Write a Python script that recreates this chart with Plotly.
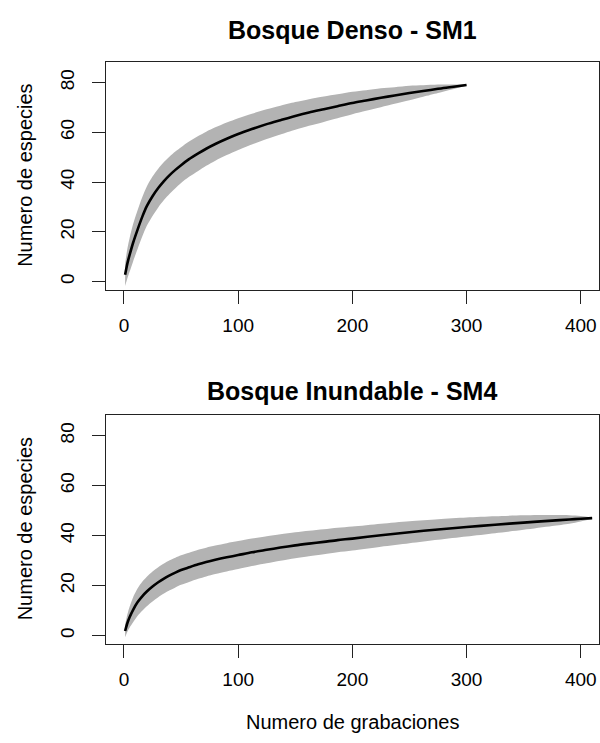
import plotly.graph_objects as go

# ---- data ----
x_denso = [1, 3, 5, 8, 12, 16, 20, 25, 30, 35, 40, 45, 50, 57, 65, 72, 80, 90, 100, 112,
           125, 137, 150, 162, 175, 187, 200, 212, 225, 237, 250, 262, 275, 287, 300]
mean_denso = [2.7, 7.3, 10.8, 15.6, 21.0, 26.0, 30.3, 34.3, 37.6, 40.4, 42.8, 44.9, 46.8, 49.2, 51.5, 53.4, 55.3, 57.4, 59.3, 61.3,
              63.3, 64.9, 66.6, 68.0, 69.3, 70.5, 71.8, 72.8, 73.9, 74.8, 75.8, 76.6, 77.5, 78.2, 79.0]
upper_denso = [7.2, 13.3, 17.6, 23.1, 28.8, 33.9, 38.2, 42.2, 45.4, 48.05, 50.3, 52.25, 54.0, 56.3, 58.5, 60.25, 62.0, 63.95, 65.7, 67.5,
               69.3, 70.7, 72.2, 73.35, 74.4, 75.3, 76.3, 76.95, 77.7, 78.15, 78.7, 78.9, 79.2, 79.2, 79.3]
lower_denso = [-1.8, 1.3, 4.0, 8.1, 13.2, 18.1, 22.4, 26.4, 29.8, 32.75, 35.3, 37.55, 39.6, 42.1, 44.5, 46.55, 48.6, 50.85, 52.9, 55.1,
               57.3, 59.1, 61.0, 62.65, 64.2, 65.7, 67.3, 68.65, 70.1, 71.45, 72.9, 74.3, 75.8, 77.2, 78.7]

x_inund = [1, 3, 5, 8, 12, 16, 20, 25, 30, 35, 40, 45, 50, 57, 65, 72, 80, 90, 100, 112,
           125, 137, 150, 162, 175, 187, 200, 225, 250, 275, 300, 325, 350, 375, 390, 400, 410]
mean_inund = [1.8, 5.0, 7.4, 10.3, 13.4, 15.7, 17.6, 19.6, 21.3, 22.8, 24.1, 25.2, 26.2, 27.3, 28.5, 29.4, 30.3, 31.3, 32.2, 33.3,
              34.3, 35.2, 36.1, 36.8, 37.5, 38.2, 38.8, 40.15, 41.35, 42.45, 43.45, 44.35, 45.2, 46.0, 46.45, 46.75, 47.0]
upper_inund = [4.3, 8.5, 11.6, 15.3, 18.9, 21.5, 23.5, 25.6, 27.3, 28.8, 30.1, 31.15, 32.1, 33.15, 34.3, 35.15, 36.0, 36.95, 37.8, 38.8,
               39.7, 40.5, 41.3, 41.9, 42.5, 43.1, 43.6, 44.75, 45.75, 46.55, 47.25, 47.75, 48.1, 48.2, 48.15, 47.85, 47.3]
lower_inund = [-0.7, 1.5, 3.2, 5.3, 7.9, 9.9, 11.7, 13.6, 15.3, 16.8, 18.1, 19.25, 20.3, 21.45, 22.7, 23.65, 24.6, 25.65, 26.6, 27.8,
               28.9, 29.9, 30.9, 31.7, 32.5, 33.3, 34.0, 35.55, 36.95, 38.35, 39.65, 40.95, 42.3, 43.8, 44.75, 45.65, 46.7]

titles = ["Bosque Denso - SM1", "Bosque Inundable - SM4"]
ylab = "Numero de especies"
xlab = "Numero de grabaciones"
x_ticks = [0, 100, 200, 300, 400]
y_ticks = [0, 20, 40, 60, 80]

# ---- layout geometry (pixels) ----
W, H = 600, 743
FONT = "Liberation Sans, Arial, sans-serif"
box_left, box_right = 105.7, 599.0
panels_px = [(61.7, 290.0), (414.7, 644.0)]  # (top, bottom)
title_y_px = [30, 391]

def py(p):
    return 1 - p / H

fig = go.Figure()
series = [(x_denso, mean_denso, upper_denso, lower_denso),
          (x_inund, mean_inund, upper_inund, lower_inund)]

for i, (xs, m, up, lo) in enumerate(series):
    xa = "x" if i == 0 else "x2"
    ya = "y" if i == 0 else "y2"
    fig.add_trace(go.Scatter(x=xs, y=lo, mode="lines",
                             line=dict(width=0, color="#B3B3B3", shape="spline", smoothing=0.8),
                             xaxis=xa, yaxis=ya, hoverinfo="skip", showlegend=False))
    fig.add_trace(go.Scatter(x=xs, y=up, mode="lines", fill="tonexty", fillcolor="#B3B3B3",
                             line=dict(width=0, color="#B3B3B3", shape="spline", smoothing=0.8),
                             xaxis=xa, yaxis=ya, hoverinfo="skip", showlegend=False))
    fig.add_trace(go.Scatter(x=xs, y=m, mode="lines",
                             line=dict(color="black", width=2.6, shape="spline", smoothing=0.8),
                             xaxis=xa, yaxis=ya, showlegend=False))

axis_common = dict(showgrid=False, zeroline=False, showline=True, mirror=True,
                   linecolor="#222222", linewidth=1.3, ticks="outside", ticklen=13,
                   tickwidth=1.3, tickcolor="#222222",
                   tickfont=dict(family=FONT, size=19, color="black"))

for i, (top, bot) in enumerate(panels_px):
    sfx = "" if i == 0 else "2"
    fig.layout["xaxis" + sfx] = dict(axis_common, domain=[box_left / W, box_right / W],
                                    range=[-16, 416], tickvals=x_ticks,
                                    anchor="y" + sfx, ticklabelstandoff=5)
    fig.layout["yaxis" + sfx] = dict(axis_common, domain=[py(bot), py(top)],
                                    range=[-3.4, 88.4], tickvals=y_ticks, tickangle=-90,
                                    anchor="x" + sfx, ticklabelstandoff=10)

annotations = []
for i, (top, bot) in enumerate(panels_px):
    annotations.append(dict(text="<b>" + titles[i] + "</b>", x=(box_left + box_right) / 2 / W,
                            y=py(title_y_px[i]), xref="paper", yref="paper", showarrow=False,
                            font=dict(family=FONT, size=25, color="black"),
                            xanchor="center", yanchor="middle"))
    annotations.append(dict(text=ylab, x=25 / W, y=py((top + bot) / 2), xref="paper", yref="paper",
                            showarrow=False, textangle=-90,
                            font=dict(family=FONT, size=20, color="black"),
                            xanchor="center", yanchor="middle"))
annotations.append(dict(text=xlab, x=(box_left + box_right) / 2 / W, y=py(722), xref="paper",
                        yref="paper", showarrow=False,
                        font=dict(family=FONT, size=20, color="black"),
                        xanchor="center", yanchor="middle"))

fig.update_layout(width=W, height=H, margin=dict(l=0, r=0, t=0, b=0),
                  paper_bgcolor="white", plot_bgcolor="white",
                  annotations=annotations, showlegend=False)

fig.write_html("out.html")
